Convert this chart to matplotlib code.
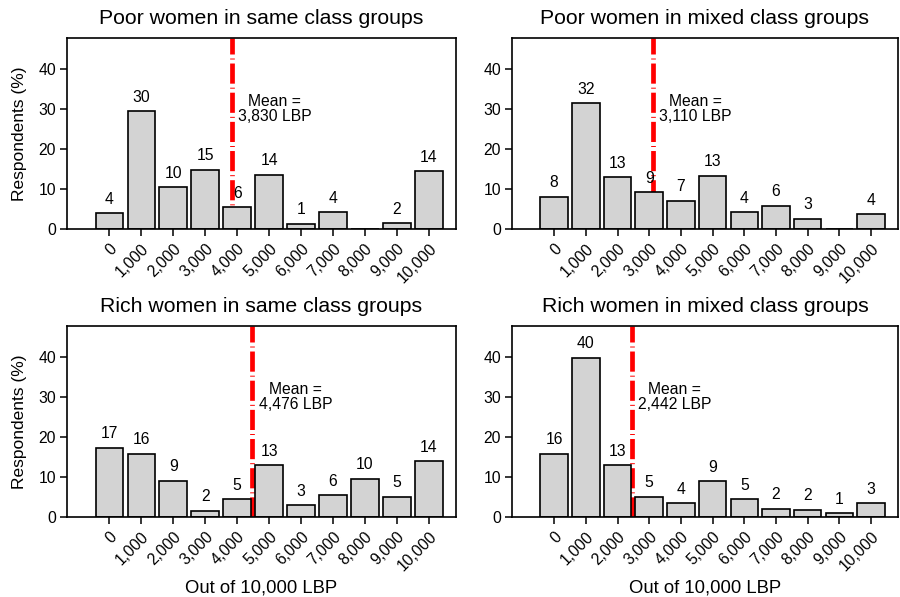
import matplotlib
matplotlib.use("Agg")
import matplotlib.pyplot as plt

plt.rcParams['font.family'] = ['Liberation Sans', 'DejaVu Sans']
plt.rcParams['lines.scale_dashes'] = False

amounts = ["0", "1,000", "2,000", "3,000", "4,000", "5,000",
           "6,000", "7,000", "8,000", "9,000", "10,000"]

titles = ["Poor women in same class groups", "Poor women in mixed class groups",
          "Rich women in same class groups", "Rich women in mixed class groups"]

# percent of respondents per amount
poor_same = [4.0, 29.5, 10.4, 14.8, 5.4, 13.6, 1.3, 4.2, 0.0, 1.5, 14.4]
poor_mixed = [8.05, 31.5, 13.0, 9.2, 7.05, 13.3, 4.2, 5.8, 2.6, 0.0, 3.7]
rich_same = [17.35, 15.85, 9.1, 1.6, 4.5, 13.0, 2.9, 5.45, 9.55, 5.1, 13.9]
rich_mixed = [15.8, 39.8, 12.9, 5.1, 3.5, 8.9, 4.5, 2.1, 1.8, 1.0, 3.4]

poor_same_lab = [4, 30, 10, 15, 6, 14, 1, 4, None, 2, 14]
poor_mixed_lab = [8, 32, 13, 9, 7, 13, 4, 6, 3, None, 4]
rich_same_lab = [17, 16, 9, 2, 5, 13, 3, 6, 10, 5, 14]
rich_mixed_lab = [16, 40, 13, 5, 4, 9, 5, 2, 2, 1, 3]

means = [3830, 3110, 4476, 2442]
mean_labels = ["Mean =\n3,830 LBP", "Mean =\n3,110 LBP",
               "Mean =\n4,476 LBP", "Mean =\n2,442 LBP"]

values = [poor_same, poor_mixed, rich_same, rich_mixed]
labels = [poor_same_lab, poor_mixed_lab, rich_same_lab, rich_mixed_lab]

W, H = 900, 597
fig = plt.figure(figsize=(W / 100, H / 100), dpi=100)

# panel boxes in pixels: left, top, right, bottom
boxes = [(67, 38, 456, 229), (512, 38, 898, 229),
         (67, 326, 456, 517), (512, 326, 898, 517)]

x = list(range(len(amounts)))
for i in range(4):
    l, t, r, b = boxes[i]
    ax = fig.add_axes([l / W, 1 - b / H, (r - l) / W, (b - t) / H])
    ax.axvline(means[i] / 1000, color='#ff0000', lw=3.4,
               dashes=(14.5, 2.9, 0.7, 2.9), zorder=1)
    ax.bar(x, values[i], width=0.87, color='#d3d3d3', edgecolor='black',
           linewidth=1.2, zorder=2)
    for xi, v, lab in zip(x, values[i], labels[i]):
        if lab is not None:
            ax.text(xi, v + 3.5, str(lab), ha='center', va='center', fontsize=11.3, zorder=3)
    ax.text(means[i] / 1000 + 1.35, 30, mean_labels[i], ha='center', va='center',
            fontsize=11.3, linespacing=1.0, zorder=3)
    ax.set_xlim(-1.33, 10.85)
    ax.set_ylim(0, 47.8)
    ax.set_yticks([0, 10, 20, 30, 40])
    ax.set_xticks(x)
    ax.set_xticklabels(amounts, rotation=45, ha='right', rotation_mode='anchor')
    ax.tick_params(axis='both', labelsize=11.3, length=5, width=1.1, direction='out')
    ax.tick_params(axis='x', pad=3.5)
    ax.tick_params(axis='y', pad=3)
    for s in ax.spines.values():
        s.set_linewidth(1.2)
    ax.set_title(titles[i], fontsize=15.3, pad=10)
    if i % 2 == 0:
        ax.set_ylabel("Respondents (%)", fontsize=12.5, labelpad=8)
    if i >= 2:
        ax.set_xlabel("Out of 10,000 LBP", fontsize=13.3, labelpad=4)

fig.savefig("out.png", dpi=100)
